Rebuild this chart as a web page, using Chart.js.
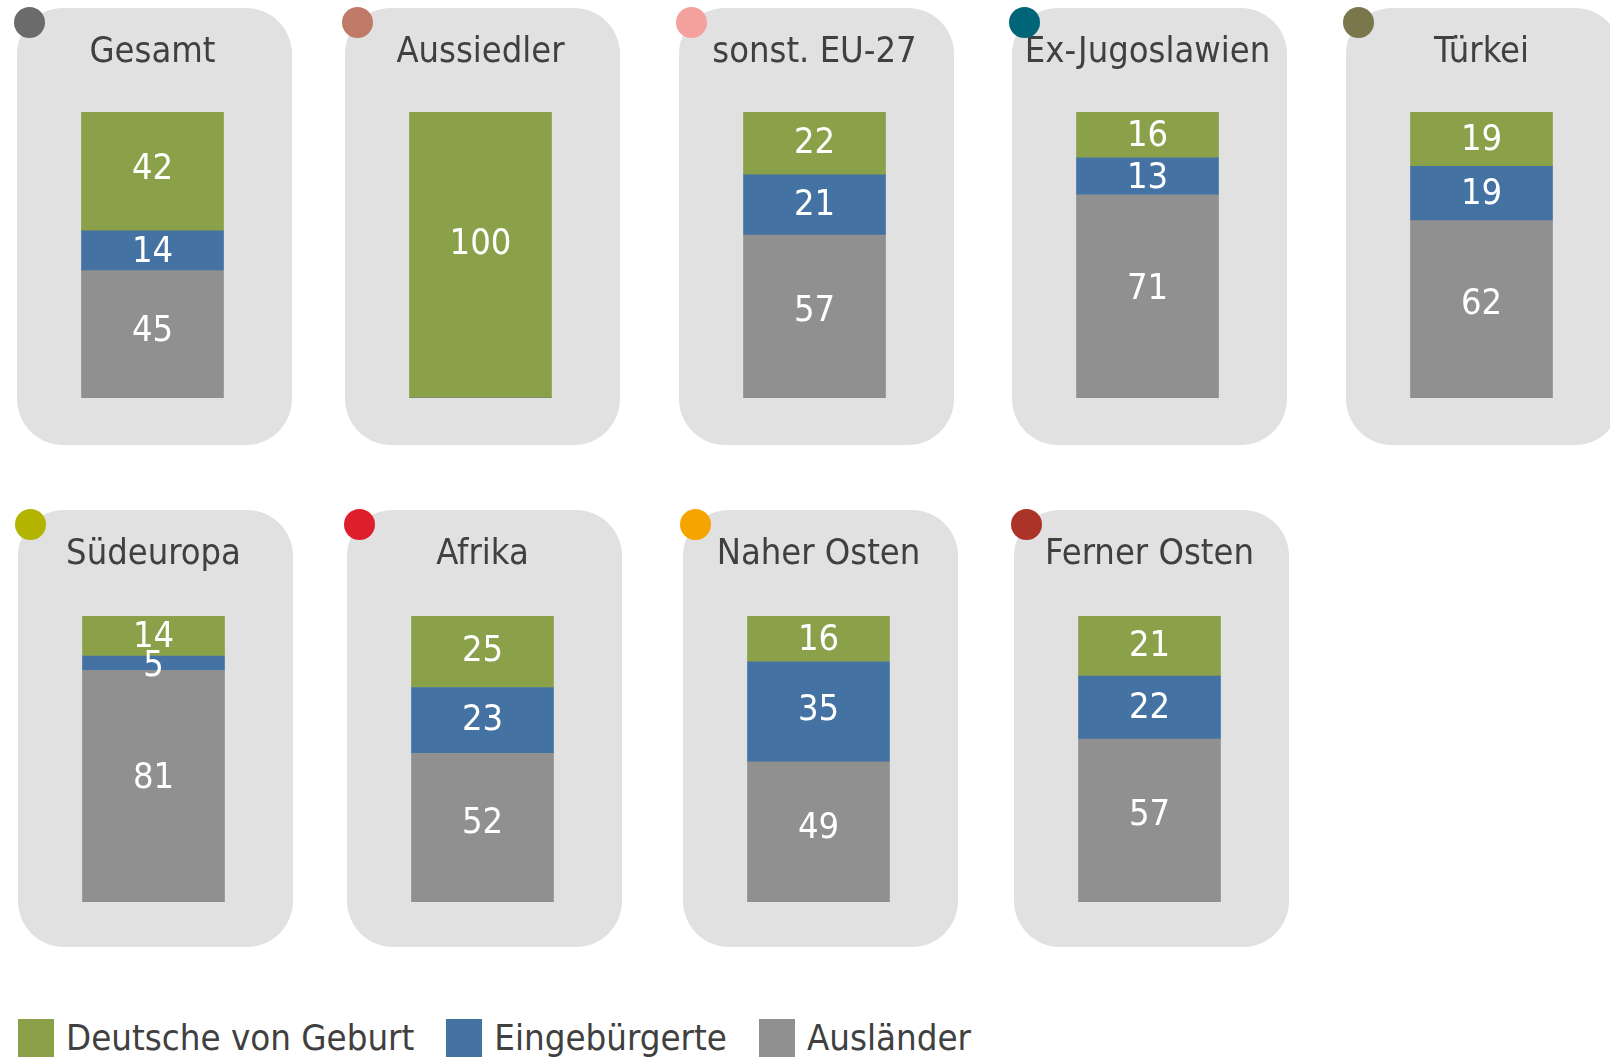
<!DOCTYPE html>
<html>
<head>
<meta charset="utf-8">
<title>Herkunft</title>
<script src="https://cdn.jsdelivr.net/npm/chart.js@4.4.0/dist/chart.umd.min.js"></script>
<style>
  html, body { margin: 0; padding: 0; background: #fff; overflow: hidden; }
  body { width: 1610px; height: 1059px; position: relative; font-family: "DejaVu Sans Condensed", "DejaVu Sans", sans-serif; }
  .panel { position: absolute; width: 275px; height: 437px; background: #e1e1e1; border-radius: 46px; }
  .panel canvas { position: absolute; left: 0; top: 0; }
  .dot { position: absolute; left: -3px; top: -1.5px; width: 31px; height: 31px; border-radius: 50%; }
  #legend { position: absolute; left: 18px; top: 1019px; display: flex; align-items: center; }
  .item { display: flex; align-items: center; margin-right: 32px; }
  .swatch { width: 36px; height: 38px; margin-right: 12px; }
  .item span { font-size: 36.3px; color: #404040; line-height: 38px; }
</style>
</head>
<body>
<div id="legend"></div>
<script>
// values (percent)
const regions = ['Gesamt', 'Aussiedler', 'sonst. EU-27', 'Ex-Jugoslawien', 'Türkei',
                 'Südeuropa', 'Afrika', 'Naher Osten', 'Ferner Osten'];
const deutsche = [42, 100, 22, 16, 19, 14, 25, 16, 21];
const eingebuergerte = [14, 0, 21, 13, 19, 5, 23, 35, 22];
const auslaender = [45, 0, 57, 71, 62, 81, 52, 49, 57];
const dotColors = ['#6b6b6b', '#c07a68', '#f4a09c', '#006677', '#7b774c',
                   '#b3b400', '#de1f2b', '#f6a500', '#ab3328'];

const seriesNames = ['Deutsche von Geburt', 'Eingebürgerte', 'Ausländer'];
const seriesColors = ['#8aa14a', '#4472a2', '#909090'];

// panel grid (left edges per row)
const rowLefts = [[16.5, 345, 679, 1012, 1346], [17.5, 347, 683, 1014]];
const rowTops = [8, 510];

const FONT = '"DejaVu Sans Condensed", "DejaVu Sans", sans-serif';
const LABEL_SIZE = 36;

// white value labels inside every segment
const segmentLabels = {
    id: 'segmentLabels',
    afterDatasetsDraw(chart) {
        const ctx = chart.ctx;
        ctx.save();
        ctx.fillStyle = '#ffffff';
        ctx.font = LABEL_SIZE + 'px ' + FONT;
        ctx.textAlign = 'center';
        ctx.textBaseline = 'alphabetic';
        const half = LABEL_SIZE * 0.365;
        chart.data.datasets.forEach((ds, di) => {
            chart.getDatasetMeta(di).data.forEach((bar, i) => {
                const v = ds.data[i];
                if (!v) return;
                const mid = bar.y + (bar.base - bar.y) * 0.45;
                ctx.fillText(String(v), bar.x, mid + half);
            });
        });
        ctx.restore();
    }
};

regions.forEach((name, i) => {
    const row = Math.floor(i / 5);
    const col = i % 5;

    const panel = document.createElement('div');
    panel.className = 'panel';
    panel.style.left = rowLefts[row][col] + 'px';
    panel.style.top = rowTops[row] + 'px';

    const canvas = document.createElement('canvas');
    canvas.width = 275;
    canvas.height = 437;
    panel.appendChild(canvas);

    const dot = document.createElement('div');
    dot.className = 'dot';
    dot.style.background = dotColors[i];
    panel.appendChild(dot);

    document.body.appendChild(panel);

    const total = deutsche[i] + eingebuergerte[i] + auslaender[i];
    const barTop = row === 0 ? 104 : 106;
    const padTop = 23.5;

    // stacked from the bottom: Ausländer, Eingebürgerte, Deutsche
    const stack = [auslaender, eingebuergerte, deutsche];
    const stackNames = [seriesNames[2], seriesNames[1], seriesNames[0]];
    const stackColors = [seriesColors[2], seriesColors[1], seriesColors[0]];

    new Chart(canvas, {
        type: 'bar',
        data: {
            labels: [name],
            datasets: stack.map((arr, k) => ({
                label: stackNames[k],
                data: [arr[i]],
                backgroundColor: stackColors[k],
                borderWidth: 0,
                barThickness: 142
            }))
        },
        options: {
            responsive: false,
            animation: false,
            layout: {
                padding: { top: padTop, bottom: row === 0 ? 47 : 45, left: 0, right: 4 }
            },
            plugins: {
                legend: { display: false },
                tooltip: { enabled: false },
                title: {
                    display: true,
                    text: name,
                    color: '#404040',
                    font: { family: FONT, size: 36, weight: 'normal', lineHeight: 1.2 },
                    padding: { top: 0, bottom: barTop - padTop - 43.2 }
                }
            },
            scales: {
                x: { display: false, stacked: true },
                y: { display: false, stacked: true, min: 0, max: total }
            }
        },
        plugins: [segmentLabels]
    });
});

// legend
const legend = document.getElementById('legend');
seriesNames.forEach((n, k) => {
    const item = document.createElement('div');
    item.className = 'item';
    const sw = document.createElement('div');
    sw.className = 'swatch';
    sw.style.background = seriesColors[k];
    const tx = document.createElement('span');
    tx.textContent = n;
    item.appendChild(sw);
    item.appendChild(tx);
    legend.appendChild(item);
});
</script>
</body>
</html>
